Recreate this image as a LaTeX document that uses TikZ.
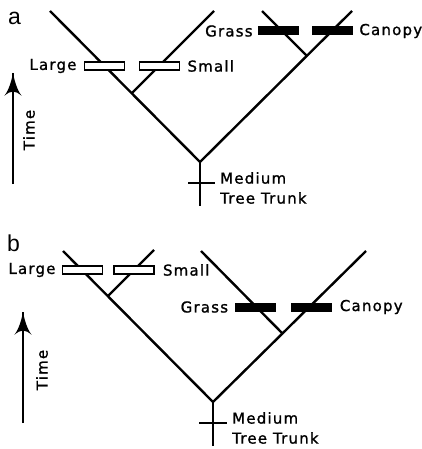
\documentclass[tikz,border=0pt]{standalone}
\usepackage{fontspec}
\usetikzlibrary{arrows}
\usetikzlibrary{decorations.markings}
\usetikzlibrary{positioning}
\newfontfamily\traitfont[LetterSpace=8, FakeBold=1.2]{DejaVu Sans}
\newfontfamily\panelfont{Liberation Sans}
\tikzset{branch/.style = {line width=2.4pt},
         openbar/.style = {draw, fill=white, line width=1.6pt, inner sep=0pt,
                           minimum width=40pt, minimum height=7.5pt},
         solidbar/.style = {fill=black, inner sep=0pt,
                            minimum width=41pt, minimum height=9pt},
         trait/.style = {font=\traitfont\fontsize{15}{20}\selectfont, inner sep=0pt},
         panel/.style = {font=\panelfont\fontsize{23}{23}\selectfont, inner sep=0pt,
                         anchor=base west},
         timeline/.style = {line width=2pt,
                            decoration={markings,
                                        mark=at position 1 with {\arrow[scale=2.6]{latex'}}},
                            postaction={decorate}}}

\begin{document}
\begin{tikzpicture}[x=1pt, y=-1pt]
      \useasboundingbox (0, 0) rectangle (422, 449);

      % a
      \node [panel] (alabel) at (8, 25) {a};
      \coordinate (aroot) at (200, 162);
      \coordinate (abase) at (200, 206);
      \coordinate (alarge) at (50, 11);
      \coordinate (asplit) at (132, 93);
      \coordinate (asmall) at (214, 11);
      \coordinate (acanopy) at (352, 11);
      \coordinate (afork) at (307, 56);
      \coordinate (agrass) at (262, 11);
      \draw [branch] (alarge) -- (aroot) -- (acanopy);
      \draw [branch] (asplit) -- (asmall);
      \draw [branch] (afork) -- (agrass);
      \draw [branch] (aroot) -- (abase);
      \coordinate (acutl) at (188, 183);
      \coordinate (acutr) at (215, 183);
      \draw [line width=1.8pt] (acutl) -- (acutr);
      \node [openbar] (alargebar) at (104.5, 66) {};
      \node [openbar] (asmallbar) at (159.5, 66) {};
      \node [solidbar] (agrassbar) at (278.5, 31) {};
      \node [solidbar] (acanopybar) at (332.5, 31) {};
      \node [trait, left=7pt of alargebar] (alargetext) {Large};
      \node [trait, right=7pt of asmallbar] (asmalltext) {Small};
      \node [trait, left=5pt of agrassbar] (agrasstext) {Grass};
      \node [trait, right=6pt of acanopybar] (acanopytext) {Canopy};
      \node [trait, anchor=west, align=left] (atrunktext) at (220, 188) {Medium\\Tree Trunk};
      \coordinate (atimelow) at (13, 184);
      \coordinate (atimehigh) at (13, 73);
      \draw [timeline] (atimelow) -- (atimehigh);
      \node [trait, rotate=90] (atimetext) at (29, 130) {Time};

      % b
      \node [panel] (blabel) at (7, 251) {b};
      \coordinate (broot) at (213, 402);
      \coordinate (bbase) at (213, 446);
      \coordinate (blarge) at (63, 251);
      \coordinate (bsplit) at (108, 296);
      \coordinate (bsmall) at (154, 250);
      \coordinate (bcanopy) at (366, 251);
      \coordinate (bfork) at (283, 334);
      \coordinate (bgrass) at (201, 251);
      \draw [branch] (blarge) -- (broot) -- (bcanopy);
      \draw [branch] (bsplit) -- (bsmall);
      \draw [branch] (bfork) -- (bgrass);
      \draw [branch] (broot) -- (bbase);
      \coordinate (bcutl) at (199, 423);
      \coordinate (bcutr) at (227, 423);
      \draw [line width=1.8pt] (bcutl) -- (bcutr);
      \node [openbar] (blargebar) at (82.5, 270) {};
      \node [openbar] (bsmallbar) at (134, 270) {};
      \node [solidbar] (bgrassbar) at (255, 307) {};
      \node [solidbar] (bcanopybar) at (311, 307) {};
      \node [trait, left=6pt of blargebar] (blargetext) {Large};
      \node [trait, right=8pt of bsmallbar] (bsmalltext) {Small};
      \node [trait, left=6pt of bgrassbar] (bgrasstext) {Grass};
      \node [trait, right=8pt of bcanopybar] (bcanopytext) {Canopy};
      \node [trait, anchor=west, align=left] (btrunktext) at (232, 428) {Medium\\Tree Trunk};
      \coordinate (btimelow) at (23, 423);
      \coordinate (btimehigh) at (23, 312);
      \draw [timeline] (btimelow) -- (btimehigh);
      \node [trait, rotate=90] (btimetext) at (42, 370) {Time};
    \end{tikzpicture}
\end{document}
